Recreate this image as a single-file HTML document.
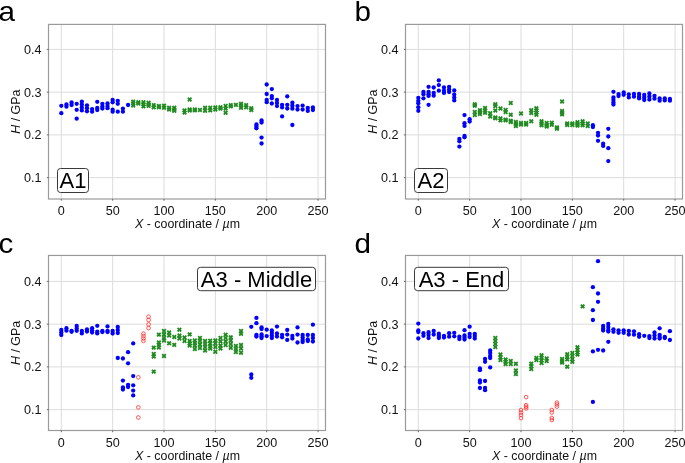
<!DOCTYPE html>
<html><head><meta charset="utf-8"><style>
html,body{margin:0;padding:0;background:#fff;}
body{width:685px;height:463px;overflow:hidden;}
svg{display:block;will-change:transform;}
</style></head><body>
<svg width="685" height="463" viewBox="0 0 685 463">
<defs>
<path id="gx" d="M1.13,-2.44 L2.44,-1.13 L1.31,-0.00 L2.44,1.13 L1.13,2.44 L0.00,1.31 L-1.13,2.44 L-2.44,1.13 L-1.31,0.00 L-2.44,-1.13 L-1.13,-2.44 L-0.00,-1.31Z" fill="#228b22"/>
</defs>
<rect width="685" height="463" fill="#fff"/>
<g transform="translate(0,0)">
<line x1="61.30" y1="24.4" x2="61.30" y2="199.0" stroke="#dcdcdc" stroke-width="1"/>
<line x1="112.65" y1="24.4" x2="112.65" y2="199.0" stroke="#dcdcdc" stroke-width="1"/>
<line x1="164.00" y1="24.4" x2="164.00" y2="199.0" stroke="#dcdcdc" stroke-width="1"/>
<line x1="215.35" y1="24.4" x2="215.35" y2="199.0" stroke="#dcdcdc" stroke-width="1"/>
<line x1="266.70" y1="24.4" x2="266.70" y2="199.0" stroke="#dcdcdc" stroke-width="1"/>
<line x1="318.05" y1="24.4" x2="318.05" y2="199.0" stroke="#dcdcdc" stroke-width="1"/>
<line x1="48.5" y1="177.65" x2="325.5" y2="177.65" stroke="#dcdcdc" stroke-width="1"/>
<line x1="48.5" y1="134.90" x2="325.5" y2="134.90" stroke="#dcdcdc" stroke-width="1"/>
<line x1="48.5" y1="92.15" x2="325.5" y2="92.15" stroke="#dcdcdc" stroke-width="1"/>
<line x1="48.5" y1="49.40" x2="325.5" y2="49.40" stroke="#dcdcdc" stroke-width="1"/>
<circle cx="61.30" cy="105.80" r="2.15" fill="#0000ff"/>
<circle cx="61.30" cy="113.20" r="2.15" fill="#0000ff"/>
<circle cx="66.44" cy="104.40" r="2.15" fill="#0000ff"/>
<circle cx="66.44" cy="106.70" r="2.15" fill="#0000ff"/>
<circle cx="71.57" cy="102.50" r="2.15" fill="#0000ff"/>
<circle cx="71.57" cy="105.00" r="2.15" fill="#0000ff"/>
<circle cx="76.70" cy="103.80" r="2.15" fill="#0000ff"/>
<circle cx="76.70" cy="109.80" r="2.15" fill="#0000ff"/>
<circle cx="76.70" cy="118.70" r="2.15" fill="#0000ff"/>
<circle cx="81.84" cy="101.60" r="2.15" fill="#0000ff"/>
<circle cx="81.84" cy="104.50" r="2.15" fill="#0000ff"/>
<circle cx="81.84" cy="107.50" r="2.15" fill="#0000ff"/>
<circle cx="81.84" cy="110.40" r="2.15" fill="#0000ff"/>
<circle cx="86.97" cy="105.30" r="2.15" fill="#0000ff"/>
<circle cx="86.97" cy="108.20" r="2.15" fill="#0000ff"/>
<circle cx="86.97" cy="111.30" r="2.15" fill="#0000ff"/>
<circle cx="92.11" cy="109.10" r="2.15" fill="#0000ff"/>
<circle cx="92.11" cy="111.70" r="2.15" fill="#0000ff"/>
<circle cx="97.25" cy="101.80" r="2.15" fill="#0000ff"/>
<circle cx="97.25" cy="108.00" r="2.15" fill="#0000ff"/>
<circle cx="97.25" cy="110.00" r="2.15" fill="#0000ff"/>
<circle cx="102.38" cy="103.80" r="2.15" fill="#0000ff"/>
<circle cx="102.38" cy="106.50" r="2.15" fill="#0000ff"/>
<circle cx="102.38" cy="108.60" r="2.15" fill="#0000ff"/>
<circle cx="107.51" cy="103.40" r="2.15" fill="#0000ff"/>
<circle cx="107.51" cy="106.00" r="2.15" fill="#0000ff"/>
<circle cx="107.51" cy="108.20" r="2.15" fill="#0000ff"/>
<circle cx="112.65" cy="99.90" r="2.15" fill="#0000ff"/>
<circle cx="112.65" cy="102.30" r="2.15" fill="#0000ff"/>
<circle cx="112.65" cy="109.70" r="2.15" fill="#0000ff"/>
<circle cx="112.65" cy="111.70" r="2.15" fill="#0000ff"/>
<circle cx="117.78" cy="100.80" r="2.15" fill="#0000ff"/>
<circle cx="117.78" cy="103.80" r="2.15" fill="#0000ff"/>
<circle cx="117.78" cy="111.70" r="2.15" fill="#0000ff"/>
<circle cx="122.92" cy="108.60" r="2.15" fill="#0000ff"/>
<circle cx="122.92" cy="111.70" r="2.15" fill="#0000ff"/>
<circle cx="128.06" cy="105.00" r="2.15" fill="#0000ff"/>
<circle cx="256.43" cy="124.50" r="2.15" fill="#0000ff"/>
<circle cx="256.43" cy="126.40" r="2.15" fill="#0000ff"/>
<circle cx="256.43" cy="128.30" r="2.15" fill="#0000ff"/>
<circle cx="261.56" cy="120.40" r="2.15" fill="#0000ff"/>
<circle cx="261.56" cy="122.50" r="2.15" fill="#0000ff"/>
<circle cx="261.56" cy="137.60" r="2.15" fill="#0000ff"/>
<circle cx="261.56" cy="143.50" r="2.15" fill="#0000ff"/>
<circle cx="266.70" cy="84.50" r="2.15" fill="#0000ff"/>
<circle cx="266.70" cy="94.00" r="2.15" fill="#0000ff"/>
<circle cx="266.70" cy="100.00" r="2.15" fill="#0000ff"/>
<circle cx="266.70" cy="102.20" r="2.15" fill="#0000ff"/>
<circle cx="271.83" cy="89.10" r="2.15" fill="#0000ff"/>
<circle cx="271.83" cy="96.10" r="2.15" fill="#0000ff"/>
<circle cx="271.83" cy="98.30" r="2.15" fill="#0000ff"/>
<circle cx="271.83" cy="103.50" r="2.15" fill="#0000ff"/>
<circle cx="276.97" cy="100.00" r="2.15" fill="#0000ff"/>
<circle cx="276.97" cy="103.00" r="2.15" fill="#0000ff"/>
<circle cx="276.97" cy="106.10" r="2.15" fill="#0000ff"/>
<circle cx="282.10" cy="104.80" r="2.15" fill="#0000ff"/>
<circle cx="282.10" cy="107.40" r="2.15" fill="#0000ff"/>
<circle cx="282.10" cy="116.40" r="2.15" fill="#0000ff"/>
<circle cx="287.24" cy="96.40" r="2.15" fill="#0000ff"/>
<circle cx="287.24" cy="104.80" r="2.15" fill="#0000ff"/>
<circle cx="287.24" cy="108.50" r="2.15" fill="#0000ff"/>
<circle cx="292.38" cy="102.70" r="2.15" fill="#0000ff"/>
<circle cx="292.38" cy="105.70" r="2.15" fill="#0000ff"/>
<circle cx="292.38" cy="108.70" r="2.15" fill="#0000ff"/>
<circle cx="292.38" cy="125.00" r="2.15" fill="#0000ff"/>
<circle cx="297.51" cy="106.10" r="2.15" fill="#0000ff"/>
<circle cx="297.51" cy="109.60" r="2.15" fill="#0000ff"/>
<circle cx="302.64" cy="105.70" r="2.15" fill="#0000ff"/>
<circle cx="302.64" cy="109.60" r="2.15" fill="#0000ff"/>
<circle cx="307.78" cy="107.90" r="2.15" fill="#0000ff"/>
<circle cx="307.78" cy="110.90" r="2.15" fill="#0000ff"/>
<circle cx="312.91" cy="107.40" r="2.15" fill="#0000ff"/>
<circle cx="312.91" cy="110.00" r="2.15" fill="#0000ff"/>
<use href="#gx" x="133.19" y="101.60"/>
<use href="#gx" x="133.19" y="103.50"/>
<use href="#gx" x="133.19" y="105.50"/>
<use href="#gx" x="138.32" y="102.20"/>
<use href="#gx" x="138.32" y="103.50"/>
<use href="#gx" x="143.46" y="102.20"/>
<use href="#gx" x="143.46" y="104.30"/>
<use href="#gx" x="143.46" y="106.40"/>
<use href="#gx" x="148.59" y="102.70"/>
<use href="#gx" x="148.59" y="104.30"/>
<use href="#gx" x="148.59" y="105.90"/>
<use href="#gx" x="153.73" y="105.10"/>
<use href="#gx" x="153.73" y="107.30"/>
<use href="#gx" x="158.87" y="106.00"/>
<use href="#gx" x="158.87" y="107.30"/>
<use href="#gx" x="164.00" y="105.60"/>
<use href="#gx" x="164.00" y="107.80"/>
<use href="#gx" x="169.13" y="107.80"/>
<use href="#gx" x="169.13" y="109.50"/>
<use href="#gx" x="174.27" y="107.80"/>
<use href="#gx" x="174.27" y="109.50"/>
<use href="#gx" x="174.27" y="110.80"/>
<use href="#gx" x="184.54" y="110.40"/>
<use href="#gx" x="184.54" y="112.60"/>
<use href="#gx" x="189.68" y="99.50"/>
<use href="#gx" x="189.68" y="109.50"/>
<use href="#gx" x="189.68" y="110.50"/>
<use href="#gx" x="194.81" y="109.50"/>
<use href="#gx" x="194.81" y="110.40"/>
<use href="#gx" x="199.94" y="110.00"/>
<use href="#gx" x="205.08" y="107.80"/>
<use href="#gx" x="205.08" y="110.80"/>
<use href="#gx" x="210.21" y="107.80"/>
<use href="#gx" x="210.21" y="110.40"/>
<use href="#gx" x="215.35" y="107.50"/>
<use href="#gx" x="215.35" y="109.50"/>
<use href="#gx" x="220.48" y="107.30"/>
<use href="#gx" x="220.48" y="108.60"/>
<use href="#gx" x="225.62" y="106.00"/>
<use href="#gx" x="225.62" y="108.60"/>
<use href="#gx" x="225.62" y="112.80"/>
<use href="#gx" x="230.75" y="105.10"/>
<use href="#gx" x="230.75" y="106.40"/>
<use href="#gx" x="235.89" y="104.90"/>
<use href="#gx" x="241.02" y="103.80"/>
<use href="#gx" x="241.02" y="105.60"/>
<use href="#gx" x="241.02" y="107.80"/>
<use href="#gx" x="246.16" y="105.10"/>
<use href="#gx" x="246.16" y="107.30"/>
<use href="#gx" x="251.29" y="108.20"/>
<use href="#gx" x="251.29" y="110.00"/>
<rect x="48.5" y="24.4" width="277.0" height="174.6" fill="none" stroke="#9a9a9a" stroke-width="1.2"/>
<line x1="61.30" y1="199.0" x2="61.30" y2="200.7" stroke="#666" stroke-width="1"/>
<text x="61.30" y="215.3" text-anchor="middle" font-size="12.6" font-family="Liberation Sans, sans-serif" fill="#111">0</text>
<line x1="112.65" y1="199.0" x2="112.65" y2="200.7" stroke="#666" stroke-width="1"/>
<text x="112.65" y="215.3" text-anchor="middle" font-size="12.6" font-family="Liberation Sans, sans-serif" fill="#111">50</text>
<line x1="164.00" y1="199.0" x2="164.00" y2="200.7" stroke="#666" stroke-width="1"/>
<text x="164.00" y="215.3" text-anchor="middle" font-size="12.6" font-family="Liberation Sans, sans-serif" fill="#111">100</text>
<line x1="215.35" y1="199.0" x2="215.35" y2="200.7" stroke="#666" stroke-width="1"/>
<text x="215.35" y="215.3" text-anchor="middle" font-size="12.6" font-family="Liberation Sans, sans-serif" fill="#111">150</text>
<line x1="266.70" y1="199.0" x2="266.70" y2="200.7" stroke="#666" stroke-width="1"/>
<text x="266.70" y="215.3" text-anchor="middle" font-size="12.6" font-family="Liberation Sans, sans-serif" fill="#111">200</text>
<line x1="318.05" y1="199.0" x2="318.05" y2="200.7" stroke="#666" stroke-width="1"/>
<text x="318.05" y="215.3" text-anchor="middle" font-size="12.6" font-family="Liberation Sans, sans-serif" fill="#111">250</text>
<line x1="46.8" y1="177.65" x2="48.5" y2="177.65" stroke="#666" stroke-width="1"/>
<text x="41.4" y="182.15" text-anchor="end" font-size="12.6" font-family="Liberation Sans, sans-serif" fill="#111">0.1</text>
<line x1="46.8" y1="134.90" x2="48.5" y2="134.90" stroke="#666" stroke-width="1"/>
<text x="41.4" y="139.40" text-anchor="end" font-size="12.6" font-family="Liberation Sans, sans-serif" fill="#111">0.2</text>
<line x1="46.8" y1="92.15" x2="48.5" y2="92.15" stroke="#666" stroke-width="1"/>
<text x="41.4" y="96.65" text-anchor="end" font-size="12.6" font-family="Liberation Sans, sans-serif" fill="#111">0.3</text>
<line x1="46.8" y1="49.40" x2="48.5" y2="49.40" stroke="#666" stroke-width="1"/>
<text x="41.4" y="53.90" text-anchor="end" font-size="12.6" font-family="Liberation Sans, sans-serif" fill="#111">0.4</text>
<text x="187.50" y="227.5" text-anchor="middle" font-size="12.4" font-family="Liberation Sans, sans-serif" fill="#111"><tspan font-style="italic">X</tspan> - coordinate / <tspan font-style="italic">µ</tspan>m</text>
<text transform="translate(20.2,111.70) rotate(-90)" text-anchor="middle" font-size="12.4" font-family="Liberation Sans, sans-serif" fill="#111"><tspan font-style="italic">H</tspan> / GPa</text>
<text transform="translate(-1.5,21.2) scale(1.06,1)" x="0" y="0" font-size="28" font-family="Liberation Sans, sans-serif" fill="#000">a</text>
</g>
<g transform="translate(357,0)">
<line x1="61.30" y1="24.4" x2="61.30" y2="199.0" stroke="#dcdcdc" stroke-width="1"/>
<line x1="112.65" y1="24.4" x2="112.65" y2="199.0" stroke="#dcdcdc" stroke-width="1"/>
<line x1="164.00" y1="24.4" x2="164.00" y2="199.0" stroke="#dcdcdc" stroke-width="1"/>
<line x1="215.35" y1="24.4" x2="215.35" y2="199.0" stroke="#dcdcdc" stroke-width="1"/>
<line x1="266.70" y1="24.4" x2="266.70" y2="199.0" stroke="#dcdcdc" stroke-width="1"/>
<line x1="318.05" y1="24.4" x2="318.05" y2="199.0" stroke="#dcdcdc" stroke-width="1"/>
<line x1="48.5" y1="177.65" x2="325.5" y2="177.65" stroke="#dcdcdc" stroke-width="1"/>
<line x1="48.5" y1="134.90" x2="325.5" y2="134.90" stroke="#dcdcdc" stroke-width="1"/>
<line x1="48.5" y1="92.15" x2="325.5" y2="92.15" stroke="#dcdcdc" stroke-width="1"/>
<line x1="48.5" y1="49.40" x2="325.5" y2="49.40" stroke="#dcdcdc" stroke-width="1"/>
<circle cx="61.30" cy="97.80" r="2.15" fill="#0000ff"/>
<circle cx="61.30" cy="100.80" r="2.15" fill="#0000ff"/>
<circle cx="61.30" cy="103.20" r="2.15" fill="#0000ff"/>
<circle cx="61.30" cy="107.20" r="2.15" fill="#0000ff"/>
<circle cx="61.30" cy="110.80" r="2.15" fill="#0000ff"/>
<circle cx="66.44" cy="92.00" r="2.15" fill="#0000ff"/>
<circle cx="66.44" cy="94.20" r="2.15" fill="#0000ff"/>
<circle cx="66.44" cy="98.30" r="2.15" fill="#0000ff"/>
<circle cx="71.57" cy="86.80" r="2.15" fill="#0000ff"/>
<circle cx="71.57" cy="92.00" r="2.15" fill="#0000ff"/>
<circle cx="71.57" cy="94.20" r="2.15" fill="#0000ff"/>
<circle cx="71.57" cy="95.90" r="2.15" fill="#0000ff"/>
<circle cx="71.57" cy="104.80" r="2.15" fill="#0000ff"/>
<circle cx="76.70" cy="87.50" r="2.15" fill="#0000ff"/>
<circle cx="76.70" cy="92.90" r="2.15" fill="#0000ff"/>
<circle cx="76.70" cy="95.70" r="2.15" fill="#0000ff"/>
<circle cx="81.84" cy="80.40" r="2.15" fill="#0000ff"/>
<circle cx="81.84" cy="85.10" r="2.15" fill="#0000ff"/>
<circle cx="81.84" cy="90.70" r="2.15" fill="#0000ff"/>
<circle cx="86.97" cy="87.50" r="2.15" fill="#0000ff"/>
<circle cx="86.97" cy="90.70" r="2.15" fill="#0000ff"/>
<circle cx="86.97" cy="92.90" r="2.15" fill="#0000ff"/>
<circle cx="92.11" cy="86.80" r="2.15" fill="#0000ff"/>
<circle cx="92.11" cy="89.40" r="2.15" fill="#0000ff"/>
<circle cx="92.11" cy="92.00" r="2.15" fill="#0000ff"/>
<circle cx="97.25" cy="90.50" r="2.15" fill="#0000ff"/>
<circle cx="97.25" cy="94.60" r="2.15" fill="#0000ff"/>
<circle cx="97.25" cy="97.60" r="2.15" fill="#0000ff"/>
<circle cx="97.25" cy="100.40" r="2.15" fill="#0000ff"/>
<circle cx="102.38" cy="139.00" r="2.15" fill="#0000ff"/>
<circle cx="102.38" cy="141.30" r="2.15" fill="#0000ff"/>
<circle cx="102.38" cy="146.60" r="2.15" fill="#0000ff"/>
<circle cx="107.51" cy="115.10" r="2.15" fill="#0000ff"/>
<circle cx="107.51" cy="123.20" r="2.15" fill="#0000ff"/>
<circle cx="107.51" cy="125.90" r="2.15" fill="#0000ff"/>
<circle cx="107.51" cy="135.90" r="2.15" fill="#0000ff"/>
<circle cx="107.51" cy="137.30" r="2.15" fill="#0000ff"/>
<circle cx="112.65" cy="119.20" r="2.15" fill="#0000ff"/>
<circle cx="112.65" cy="121.60" r="2.15" fill="#0000ff"/>
<circle cx="235.89" cy="125.20" r="2.15" fill="#0000ff"/>
<circle cx="235.89" cy="127.00" r="2.15" fill="#0000ff"/>
<circle cx="241.02" cy="132.80" r="2.15" fill="#0000ff"/>
<circle cx="241.02" cy="135.60" r="2.15" fill="#0000ff"/>
<circle cx="241.02" cy="140.80" r="2.15" fill="#0000ff"/>
<circle cx="246.16" cy="143.70" r="2.15" fill="#0000ff"/>
<circle cx="246.16" cy="145.90" r="2.15" fill="#0000ff"/>
<circle cx="251.29" cy="128.80" r="2.15" fill="#0000ff"/>
<circle cx="251.29" cy="136.50" r="2.15" fill="#0000ff"/>
<circle cx="251.29" cy="148.20" r="2.15" fill="#0000ff"/>
<circle cx="251.29" cy="161.10" r="2.15" fill="#0000ff"/>
<circle cx="256.43" cy="91.80" r="2.15" fill="#0000ff"/>
<circle cx="256.43" cy="97.50" r="2.15" fill="#0000ff"/>
<circle cx="256.43" cy="100.00" r="2.15" fill="#0000ff"/>
<circle cx="256.43" cy="102.50" r="2.15" fill="#0000ff"/>
<circle cx="256.43" cy="104.50" r="2.15" fill="#0000ff"/>
<circle cx="261.56" cy="94.10" r="2.15" fill="#0000ff"/>
<circle cx="261.56" cy="96.00" r="2.15" fill="#0000ff"/>
<circle cx="266.70" cy="92.40" r="2.15" fill="#0000ff"/>
<circle cx="266.70" cy="94.80" r="2.15" fill="#0000ff"/>
<circle cx="271.83" cy="94.30" r="2.15" fill="#0000ff"/>
<circle cx="271.83" cy="97.40" r="2.15" fill="#0000ff"/>
<circle cx="276.97" cy="94.00" r="2.15" fill="#0000ff"/>
<circle cx="276.97" cy="96.70" r="2.15" fill="#0000ff"/>
<circle cx="282.10" cy="94.00" r="2.15" fill="#0000ff"/>
<circle cx="282.10" cy="96.50" r="2.15" fill="#0000ff"/>
<circle cx="282.10" cy="98.40" r="2.15" fill="#0000ff"/>
<circle cx="287.24" cy="95.00" r="2.15" fill="#0000ff"/>
<circle cx="287.24" cy="97.50" r="2.15" fill="#0000ff"/>
<circle cx="287.24" cy="100.00" r="2.15" fill="#0000ff"/>
<circle cx="292.38" cy="93.50" r="2.15" fill="#0000ff"/>
<circle cx="292.38" cy="96.50" r="2.15" fill="#0000ff"/>
<circle cx="292.38" cy="99.50" r="2.15" fill="#0000ff"/>
<circle cx="297.51" cy="95.80" r="2.15" fill="#0000ff"/>
<circle cx="297.51" cy="98.70" r="2.15" fill="#0000ff"/>
<circle cx="302.64" cy="98.50" r="2.15" fill="#0000ff"/>
<circle cx="302.64" cy="100.70" r="2.15" fill="#0000ff"/>
<circle cx="307.78" cy="98.50" r="2.15" fill="#0000ff"/>
<circle cx="307.78" cy="100.40" r="2.15" fill="#0000ff"/>
<circle cx="312.91" cy="98.90" r="2.15" fill="#0000ff"/>
<circle cx="312.91" cy="100.70" r="2.15" fill="#0000ff"/>
<use href="#gx" x="117.78" y="104.30"/>
<use href="#gx" x="117.78" y="105.70"/>
<use href="#gx" x="117.78" y="112.00"/>
<use href="#gx" x="117.78" y="115.00"/>
<use href="#gx" x="122.92" y="110.20"/>
<use href="#gx" x="122.92" y="112.20"/>
<use href="#gx" x="122.92" y="114.00"/>
<use href="#gx" x="128.06" y="108.00"/>
<use href="#gx" x="128.06" y="110.50"/>
<use href="#gx" x="128.06" y="112.70"/>
<use href="#gx" x="133.19" y="113.20"/>
<use href="#gx" x="133.19" y="116.50"/>
<use href="#gx" x="138.32" y="104.30"/>
<use href="#gx" x="138.32" y="106.00"/>
<use href="#gx" x="138.32" y="110.50"/>
<use href="#gx" x="138.32" y="117.50"/>
<use href="#gx" x="138.32" y="118.30"/>
<use href="#gx" x="143.46" y="108.50"/>
<use href="#gx" x="143.46" y="118.40"/>
<use href="#gx" x="143.46" y="120.40"/>
<use href="#gx" x="148.59" y="110.00"/>
<use href="#gx" x="148.59" y="112.00"/>
<use href="#gx" x="148.59" y="119.60"/>
<use href="#gx" x="148.59" y="120.40"/>
<use href="#gx" x="153.73" y="103.00"/>
<use href="#gx" x="153.73" y="114.80"/>
<use href="#gx" x="153.73" y="120.80"/>
<use href="#gx" x="153.73" y="122.00"/>
<use href="#gx" x="158.87" y="122.00"/>
<use href="#gx" x="158.87" y="124.00"/>
<use href="#gx" x="158.87" y="126.00"/>
<use href="#gx" x="164.00" y="113.50"/>
<use href="#gx" x="164.00" y="123.00"/>
<use href="#gx" x="164.00" y="124.50"/>
<use href="#gx" x="169.13" y="123.00"/>
<use href="#gx" x="169.13" y="124.50"/>
<use href="#gx" x="174.27" y="110.20"/>
<use href="#gx" x="174.27" y="113.00"/>
<use href="#gx" x="174.27" y="121.30"/>
<use href="#gx" x="179.40" y="108.30"/>
<use href="#gx" x="179.40" y="110.50"/>
<use href="#gx" x="179.40" y="112.70"/>
<use href="#gx" x="179.40" y="114.80"/>
<use href="#gx" x="184.54" y="121.30"/>
<use href="#gx" x="184.54" y="123.50"/>
<use href="#gx" x="184.54" y="125.20"/>
<use href="#gx" x="189.68" y="123.00"/>
<use href="#gx" x="189.68" y="125.00"/>
<use href="#gx" x="189.68" y="126.50"/>
<use href="#gx" x="194.81" y="122.70"/>
<use href="#gx" x="194.81" y="124.80"/>
<use href="#gx" x="199.94" y="127.40"/>
<use href="#gx" x="199.94" y="128.70"/>
<use href="#gx" x="205.08" y="101.50"/>
<use href="#gx" x="205.08" y="111.00"/>
<use href="#gx" x="205.08" y="112.70"/>
<use href="#gx" x="205.08" y="114.40"/>
<use href="#gx" x="210.21" y="123.50"/>
<use href="#gx" x="210.21" y="125.00"/>
<use href="#gx" x="215.35" y="123.50"/>
<use href="#gx" x="215.35" y="125.00"/>
<use href="#gx" x="220.48" y="122.20"/>
<use href="#gx" x="220.48" y="124.00"/>
<use href="#gx" x="220.48" y="125.60"/>
<use href="#gx" x="225.62" y="121.30"/>
<use href="#gx" x="225.62" y="123.50"/>
<use href="#gx" x="225.62" y="125.20"/>
<use href="#gx" x="230.75" y="123.50"/>
<use href="#gx" x="230.75" y="126.00"/>
<rect x="48.5" y="24.4" width="277.0" height="174.6" fill="none" stroke="#9a9a9a" stroke-width="1.2"/>
<line x1="61.30" y1="199.0" x2="61.30" y2="200.7" stroke="#666" stroke-width="1"/>
<text x="61.30" y="215.3" text-anchor="middle" font-size="12.6" font-family="Liberation Sans, sans-serif" fill="#111">0</text>
<line x1="112.65" y1="199.0" x2="112.65" y2="200.7" stroke="#666" stroke-width="1"/>
<text x="112.65" y="215.3" text-anchor="middle" font-size="12.6" font-family="Liberation Sans, sans-serif" fill="#111">50</text>
<line x1="164.00" y1="199.0" x2="164.00" y2="200.7" stroke="#666" stroke-width="1"/>
<text x="164.00" y="215.3" text-anchor="middle" font-size="12.6" font-family="Liberation Sans, sans-serif" fill="#111">100</text>
<line x1="215.35" y1="199.0" x2="215.35" y2="200.7" stroke="#666" stroke-width="1"/>
<text x="215.35" y="215.3" text-anchor="middle" font-size="12.6" font-family="Liberation Sans, sans-serif" fill="#111">150</text>
<line x1="266.70" y1="199.0" x2="266.70" y2="200.7" stroke="#666" stroke-width="1"/>
<text x="266.70" y="215.3" text-anchor="middle" font-size="12.6" font-family="Liberation Sans, sans-serif" fill="#111">200</text>
<line x1="318.05" y1="199.0" x2="318.05" y2="200.7" stroke="#666" stroke-width="1"/>
<text x="318.05" y="215.3" text-anchor="middle" font-size="12.6" font-family="Liberation Sans, sans-serif" fill="#111">250</text>
<line x1="46.8" y1="177.65" x2="48.5" y2="177.65" stroke="#666" stroke-width="1"/>
<text x="41.4" y="182.15" text-anchor="end" font-size="12.6" font-family="Liberation Sans, sans-serif" fill="#111">0.1</text>
<line x1="46.8" y1="134.90" x2="48.5" y2="134.90" stroke="#666" stroke-width="1"/>
<text x="41.4" y="139.40" text-anchor="end" font-size="12.6" font-family="Liberation Sans, sans-serif" fill="#111">0.2</text>
<line x1="46.8" y1="92.15" x2="48.5" y2="92.15" stroke="#666" stroke-width="1"/>
<text x="41.4" y="96.65" text-anchor="end" font-size="12.6" font-family="Liberation Sans, sans-serif" fill="#111">0.3</text>
<line x1="46.8" y1="49.40" x2="48.5" y2="49.40" stroke="#666" stroke-width="1"/>
<text x="41.4" y="53.90" text-anchor="end" font-size="12.6" font-family="Liberation Sans, sans-serif" fill="#111">0.4</text>
<text x="187.50" y="227.5" text-anchor="middle" font-size="12.4" font-family="Liberation Sans, sans-serif" fill="#111"><tspan font-style="italic">X</tspan> - coordinate / <tspan font-style="italic">µ</tspan>m</text>
<text transform="translate(20.2,111.70) rotate(-90)" text-anchor="middle" font-size="12.4" font-family="Liberation Sans, sans-serif" fill="#111"><tspan font-style="italic">H</tspan> / GPa</text>
<text transform="translate(-2.4,21.4) scale(1.06,1)" x="0" y="0" font-size="28" font-family="Liberation Sans, sans-serif" fill="#000">b</text>
</g>
<g transform="translate(0,232)">
<line x1="61.30" y1="23.45" x2="61.30" y2="198.5" stroke="#dcdcdc" stroke-width="1"/>
<line x1="112.65" y1="23.45" x2="112.65" y2="198.5" stroke="#dcdcdc" stroke-width="1"/>
<line x1="164.00" y1="23.45" x2="164.00" y2="198.5" stroke="#dcdcdc" stroke-width="1"/>
<line x1="215.35" y1="23.45" x2="215.35" y2="198.5" stroke="#dcdcdc" stroke-width="1"/>
<line x1="266.70" y1="23.45" x2="266.70" y2="198.5" stroke="#dcdcdc" stroke-width="1"/>
<line x1="318.05" y1="23.45" x2="318.05" y2="198.5" stroke="#dcdcdc" stroke-width="1"/>
<line x1="48.5" y1="177.65" x2="325.5" y2="177.65" stroke="#dcdcdc" stroke-width="1"/>
<line x1="48.5" y1="134.90" x2="325.5" y2="134.90" stroke="#dcdcdc" stroke-width="1"/>
<line x1="48.5" y1="92.15" x2="325.5" y2="92.15" stroke="#dcdcdc" stroke-width="1"/>
<line x1="48.5" y1="49.40" x2="325.5" y2="49.40" stroke="#dcdcdc" stroke-width="1"/>
<circle cx="61.30" cy="98.00" r="2.15" fill="#0000ff"/>
<circle cx="61.30" cy="100.50" r="2.15" fill="#0000ff"/>
<circle cx="61.30" cy="103.00" r="2.15" fill="#0000ff"/>
<circle cx="66.44" cy="96.20" r="2.15" fill="#0000ff"/>
<circle cx="66.44" cy="98.70" r="2.15" fill="#0000ff"/>
<circle cx="71.57" cy="98.80" r="2.15" fill="#0000ff"/>
<circle cx="71.57" cy="99.80" r="2.15" fill="#0000ff"/>
<circle cx="76.70" cy="94.00" r="2.15" fill="#0000ff"/>
<circle cx="76.70" cy="96.50" r="2.15" fill="#0000ff"/>
<circle cx="76.70" cy="98.80" r="2.15" fill="#0000ff"/>
<circle cx="81.84" cy="99.00" r="2.15" fill="#0000ff"/>
<circle cx="81.84" cy="101.40" r="2.15" fill="#0000ff"/>
<circle cx="86.97" cy="97.50" r="2.15" fill="#0000ff"/>
<circle cx="86.97" cy="99.60" r="2.15" fill="#0000ff"/>
<circle cx="92.11" cy="96.20" r="2.15" fill="#0000ff"/>
<circle cx="92.11" cy="98.50" r="2.15" fill="#0000ff"/>
<circle cx="92.11" cy="100.50" r="2.15" fill="#0000ff"/>
<circle cx="97.25" cy="93.80" r="2.15" fill="#0000ff"/>
<circle cx="97.25" cy="99.70" r="2.15" fill="#0000ff"/>
<circle cx="97.25" cy="101.40" r="2.15" fill="#0000ff"/>
<circle cx="102.38" cy="99.00" r="2.15" fill="#0000ff"/>
<circle cx="102.38" cy="100.00" r="2.15" fill="#0000ff"/>
<circle cx="107.51" cy="94.40" r="2.15" fill="#0000ff"/>
<circle cx="107.51" cy="99.00" r="2.15" fill="#0000ff"/>
<circle cx="107.51" cy="100.00" r="2.15" fill="#0000ff"/>
<circle cx="112.65" cy="99.00" r="2.15" fill="#0000ff"/>
<circle cx="112.65" cy="101.50" r="2.15" fill="#0000ff"/>
<circle cx="117.78" cy="95.00" r="2.15" fill="#0000ff"/>
<circle cx="117.78" cy="98.00" r="2.15" fill="#0000ff"/>
<circle cx="117.78" cy="101.00" r="2.15" fill="#0000ff"/>
<circle cx="117.78" cy="126.00" r="2.15" fill="#0000ff"/>
<circle cx="122.92" cy="126.50" r="2.15" fill="#0000ff"/>
<circle cx="122.92" cy="148.60" r="2.15" fill="#0000ff"/>
<circle cx="122.92" cy="155.50" r="2.15" fill="#0000ff"/>
<circle cx="122.92" cy="157.50" r="2.15" fill="#0000ff"/>
<circle cx="128.06" cy="120.20" r="2.15" fill="#0000ff"/>
<circle cx="128.06" cy="131.30" r="2.15" fill="#0000ff"/>
<circle cx="128.06" cy="152.80" r="2.15" fill="#0000ff"/>
<circle cx="128.06" cy="155.00" r="2.15" fill="#0000ff"/>
<circle cx="133.19" cy="111.40" r="2.15" fill="#0000ff"/>
<circle cx="133.19" cy="144.10" r="2.15" fill="#0000ff"/>
<circle cx="133.19" cy="153.30" r="2.15" fill="#0000ff"/>
<circle cx="133.19" cy="158.60" r="2.15" fill="#0000ff"/>
<circle cx="133.19" cy="163.40" r="2.15" fill="#0000ff"/>
<circle cx="251.29" cy="94.80" r="2.15" fill="#0000ff"/>
<circle cx="251.29" cy="142.50" r="2.15" fill="#0000ff"/>
<circle cx="251.29" cy="145.80" r="2.15" fill="#0000ff"/>
<circle cx="256.43" cy="85.90" r="2.15" fill="#0000ff"/>
<circle cx="256.43" cy="91.20" r="2.15" fill="#0000ff"/>
<circle cx="256.43" cy="103.00" r="2.15" fill="#0000ff"/>
<circle cx="256.43" cy="104.50" r="2.15" fill="#0000ff"/>
<circle cx="261.56" cy="95.50" r="2.15" fill="#0000ff"/>
<circle cx="261.56" cy="97.00" r="2.15" fill="#0000ff"/>
<circle cx="261.56" cy="102.50" r="2.15" fill="#0000ff"/>
<circle cx="261.56" cy="104.50" r="2.15" fill="#0000ff"/>
<circle cx="261.56" cy="106.00" r="2.15" fill="#0000ff"/>
<circle cx="266.70" cy="97.70" r="2.15" fill="#0000ff"/>
<circle cx="266.70" cy="104.10" r="2.15" fill="#0000ff"/>
<circle cx="271.83" cy="98.50" r="2.15" fill="#0000ff"/>
<circle cx="271.83" cy="101.00" r="2.15" fill="#0000ff"/>
<circle cx="271.83" cy="103.50" r="2.15" fill="#0000ff"/>
<circle cx="271.83" cy="106.00" r="2.15" fill="#0000ff"/>
<circle cx="276.97" cy="94.60" r="2.15" fill="#0000ff"/>
<circle cx="276.97" cy="101.50" r="2.15" fill="#0000ff"/>
<circle cx="276.97" cy="104.50" r="2.15" fill="#0000ff"/>
<circle cx="282.10" cy="102.80" r="2.15" fill="#0000ff"/>
<circle cx="282.10" cy="105.30" r="2.15" fill="#0000ff"/>
<circle cx="287.24" cy="98.00" r="2.15" fill="#0000ff"/>
<circle cx="287.24" cy="102.60" r="2.15" fill="#0000ff"/>
<circle cx="287.24" cy="107.90" r="2.15" fill="#0000ff"/>
<circle cx="292.38" cy="104.00" r="2.15" fill="#0000ff"/>
<circle cx="292.38" cy="106.50" r="2.15" fill="#0000ff"/>
<circle cx="297.51" cy="95.40" r="2.15" fill="#0000ff"/>
<circle cx="297.51" cy="102.60" r="2.15" fill="#0000ff"/>
<circle cx="297.51" cy="110.50" r="2.15" fill="#0000ff"/>
<circle cx="302.64" cy="103.00" r="2.15" fill="#0000ff"/>
<circle cx="302.64" cy="105.50" r="2.15" fill="#0000ff"/>
<circle cx="302.64" cy="108.00" r="2.15" fill="#0000ff"/>
<circle cx="302.64" cy="110.00" r="2.15" fill="#0000ff"/>
<circle cx="307.78" cy="103.00" r="2.15" fill="#0000ff"/>
<circle cx="307.78" cy="107.50" r="2.15" fill="#0000ff"/>
<circle cx="307.78" cy="109.00" r="2.15" fill="#0000ff"/>
<circle cx="312.91" cy="92.70" r="2.15" fill="#0000ff"/>
<circle cx="312.91" cy="103.00" r="2.15" fill="#0000ff"/>
<circle cx="312.91" cy="106.00" r="2.15" fill="#0000ff"/>
<circle cx="312.91" cy="109.50" r="2.15" fill="#0000ff"/>
<use href="#gx" x="153.73" y="115.60"/>
<use href="#gx" x="153.73" y="122.00"/>
<use href="#gx" x="153.73" y="124.50"/>
<use href="#gx" x="153.73" y="139.60"/>
<use href="#gx" x="158.87" y="102.60"/>
<use href="#gx" x="158.87" y="110.50"/>
<use href="#gx" x="158.87" y="113.00"/>
<use href="#gx" x="158.87" y="115.50"/>
<use href="#gx" x="164.00" y="99.00"/>
<use href="#gx" x="164.00" y="102.50"/>
<use href="#gx" x="164.00" y="106.00"/>
<use href="#gx" x="164.00" y="108.50"/>
<use href="#gx" x="164.00" y="124.00"/>
<use href="#gx" x="169.13" y="100.50"/>
<use href="#gx" x="169.13" y="103.50"/>
<use href="#gx" x="169.13" y="111.30"/>
<use href="#gx" x="174.27" y="105.00"/>
<use href="#gx" x="174.27" y="112.90"/>
<use href="#gx" x="179.40" y="97.70"/>
<use href="#gx" x="179.40" y="103.50"/>
<use href="#gx" x="179.40" y="106.50"/>
<use href="#gx" x="184.54" y="105.50"/>
<use href="#gx" x="184.54" y="109.00"/>
<use href="#gx" x="189.68" y="102.40"/>
<use href="#gx" x="189.68" y="109.00"/>
<use href="#gx" x="189.68" y="111.50"/>
<use href="#gx" x="189.68" y="113.50"/>
<use href="#gx" x="194.81" y="108.50"/>
<use href="#gx" x="194.81" y="111.00"/>
<use href="#gx" x="194.81" y="113.50"/>
<use href="#gx" x="194.81" y="117.00"/>
<use href="#gx" x="199.94" y="106.00"/>
<use href="#gx" x="199.94" y="109.00"/>
<use href="#gx" x="199.94" y="112.50"/>
<use href="#gx" x="199.94" y="116.00"/>
<use href="#gx" x="205.08" y="109.00"/>
<use href="#gx" x="205.08" y="112.00"/>
<use href="#gx" x="205.08" y="115.00"/>
<use href="#gx" x="205.08" y="118.50"/>
<use href="#gx" x="210.21" y="108.80"/>
<use href="#gx" x="210.21" y="111.50"/>
<use href="#gx" x="210.21" y="114.50"/>
<use href="#gx" x="210.21" y="116.50"/>
<use href="#gx" x="215.35" y="108.50"/>
<use href="#gx" x="215.35" y="111.50"/>
<use href="#gx" x="215.35" y="115.00"/>
<use href="#gx" x="215.35" y="119.80"/>
<use href="#gx" x="220.48" y="106.00"/>
<use href="#gx" x="220.48" y="109.50"/>
<use href="#gx" x="220.48" y="113.50"/>
<use href="#gx" x="220.48" y="116.50"/>
<use href="#gx" x="225.62" y="102.80"/>
<use href="#gx" x="225.62" y="106.00"/>
<use href="#gx" x="225.62" y="109.50"/>
<use href="#gx" x="225.62" y="113.00"/>
<use href="#gx" x="230.75" y="105.30"/>
<use href="#gx" x="230.75" y="108.50"/>
<use href="#gx" x="230.75" y="112.00"/>
<use href="#gx" x="230.75" y="115.80"/>
<use href="#gx" x="235.89" y="114.00"/>
<use href="#gx" x="235.89" y="117.00"/>
<use href="#gx" x="235.89" y="120.00"/>
<use href="#gx" x="241.02" y="99.00"/>
<use href="#gx" x="241.02" y="101.80"/>
<use href="#gx" x="241.02" y="113.00"/>
<use href="#gx" x="241.02" y="116.50"/>
<use href="#gx" x="241.02" y="120.70"/>
<circle cx="138.32" cy="145.30" r="1.85" fill="none" stroke="#ff3030" stroke-width="0.8"/>
<circle cx="138.32" cy="175.40" r="1.85" fill="none" stroke="#ff3030" stroke-width="0.8"/>
<circle cx="138.32" cy="185.50" r="1.85" fill="none" stroke="#ff3030" stroke-width="0.8"/>
<circle cx="143.46" cy="101.60" r="1.85" fill="none" stroke="#ff3030" stroke-width="0.8"/>
<circle cx="143.46" cy="104.10" r="1.85" fill="none" stroke="#ff3030" stroke-width="0.8"/>
<circle cx="143.46" cy="106.50" r="1.85" fill="none" stroke="#ff3030" stroke-width="0.8"/>
<circle cx="143.46" cy="108.90" r="1.85" fill="none" stroke="#ff3030" stroke-width="0.8"/>
<circle cx="148.59" cy="84.70" r="1.85" fill="none" stroke="#ff3030" stroke-width="0.8"/>
<circle cx="148.59" cy="88.00" r="1.85" fill="none" stroke="#ff3030" stroke-width="0.8"/>
<circle cx="148.59" cy="92.40" r="1.85" fill="none" stroke="#ff3030" stroke-width="0.8"/>
<circle cx="148.59" cy="96.10" r="1.85" fill="none" stroke="#ff3030" stroke-width="0.8"/>
<rect x="48.5" y="23.45" width="277.0" height="175.05" fill="none" stroke="#9a9a9a" stroke-width="1.2"/>
<line x1="61.30" y1="198.5" x2="61.30" y2="200.2" stroke="#666" stroke-width="1"/>
<text x="61.30" y="215.3" text-anchor="middle" font-size="12.6" font-family="Liberation Sans, sans-serif" fill="#111">0</text>
<line x1="112.65" y1="198.5" x2="112.65" y2="200.2" stroke="#666" stroke-width="1"/>
<text x="112.65" y="215.3" text-anchor="middle" font-size="12.6" font-family="Liberation Sans, sans-serif" fill="#111">50</text>
<line x1="164.00" y1="198.5" x2="164.00" y2="200.2" stroke="#666" stroke-width="1"/>
<text x="164.00" y="215.3" text-anchor="middle" font-size="12.6" font-family="Liberation Sans, sans-serif" fill="#111">100</text>
<line x1="215.35" y1="198.5" x2="215.35" y2="200.2" stroke="#666" stroke-width="1"/>
<text x="215.35" y="215.3" text-anchor="middle" font-size="12.6" font-family="Liberation Sans, sans-serif" fill="#111">150</text>
<line x1="266.70" y1="198.5" x2="266.70" y2="200.2" stroke="#666" stroke-width="1"/>
<text x="266.70" y="215.3" text-anchor="middle" font-size="12.6" font-family="Liberation Sans, sans-serif" fill="#111">200</text>
<line x1="318.05" y1="198.5" x2="318.05" y2="200.2" stroke="#666" stroke-width="1"/>
<text x="318.05" y="215.3" text-anchor="middle" font-size="12.6" font-family="Liberation Sans, sans-serif" fill="#111">250</text>
<line x1="46.8" y1="177.65" x2="48.5" y2="177.65" stroke="#666" stroke-width="1"/>
<text x="41.4" y="182.15" text-anchor="end" font-size="12.6" font-family="Liberation Sans, sans-serif" fill="#111">0.1</text>
<line x1="46.8" y1="134.90" x2="48.5" y2="134.90" stroke="#666" stroke-width="1"/>
<text x="41.4" y="139.40" text-anchor="end" font-size="12.6" font-family="Liberation Sans, sans-serif" fill="#111">0.2</text>
<line x1="46.8" y1="92.15" x2="48.5" y2="92.15" stroke="#666" stroke-width="1"/>
<text x="41.4" y="96.65" text-anchor="end" font-size="12.6" font-family="Liberation Sans, sans-serif" fill="#111">0.3</text>
<line x1="46.8" y1="49.40" x2="48.5" y2="49.40" stroke="#666" stroke-width="1"/>
<text x="41.4" y="53.90" text-anchor="end" font-size="12.6" font-family="Liberation Sans, sans-serif" fill="#111">0.4</text>
<text x="187.50" y="227.5" text-anchor="middle" font-size="12.4" font-family="Liberation Sans, sans-serif" fill="#111"><tspan font-style="italic">X</tspan> - coordinate / <tspan font-style="italic">µ</tspan>m</text>
<text transform="translate(20.2,110.97) rotate(-90)" text-anchor="middle" font-size="12.4" font-family="Liberation Sans, sans-serif" fill="#111"><tspan font-style="italic">H</tspan> / GPa</text>
<text transform="translate(-1.5,21.2) scale(1.06,1)" x="0" y="0" font-size="28" font-family="Liberation Sans, sans-serif" fill="#000">c</text>
</g>
<g transform="translate(357,232)">
<line x1="61.30" y1="23.45" x2="61.30" y2="198.5" stroke="#dcdcdc" stroke-width="1"/>
<line x1="112.65" y1="23.45" x2="112.65" y2="198.5" stroke="#dcdcdc" stroke-width="1"/>
<line x1="164.00" y1="23.45" x2="164.00" y2="198.5" stroke="#dcdcdc" stroke-width="1"/>
<line x1="215.35" y1="23.45" x2="215.35" y2="198.5" stroke="#dcdcdc" stroke-width="1"/>
<line x1="266.70" y1="23.45" x2="266.70" y2="198.5" stroke="#dcdcdc" stroke-width="1"/>
<line x1="318.05" y1="23.45" x2="318.05" y2="198.5" stroke="#dcdcdc" stroke-width="1"/>
<line x1="48.5" y1="177.65" x2="325.5" y2="177.65" stroke="#dcdcdc" stroke-width="1"/>
<line x1="48.5" y1="134.90" x2="325.5" y2="134.90" stroke="#dcdcdc" stroke-width="1"/>
<line x1="48.5" y1="92.15" x2="325.5" y2="92.15" stroke="#dcdcdc" stroke-width="1"/>
<line x1="48.5" y1="49.40" x2="325.5" y2="49.40" stroke="#dcdcdc" stroke-width="1"/>
<circle cx="61.30" cy="91.60" r="2.15" fill="#0000ff"/>
<circle cx="61.30" cy="98.40" r="2.15" fill="#0000ff"/>
<circle cx="61.30" cy="100.00" r="2.15" fill="#0000ff"/>
<circle cx="61.30" cy="106.50" r="2.15" fill="#0000ff"/>
<circle cx="66.44" cy="101.20" r="2.15" fill="#0000ff"/>
<circle cx="66.44" cy="103.80" r="2.15" fill="#0000ff"/>
<circle cx="71.57" cy="100.20" r="2.15" fill="#0000ff"/>
<circle cx="71.57" cy="102.80" r="2.15" fill="#0000ff"/>
<circle cx="71.57" cy="106.00" r="2.15" fill="#0000ff"/>
<circle cx="76.70" cy="99.00" r="2.15" fill="#0000ff"/>
<circle cx="76.70" cy="102.50" r="2.15" fill="#0000ff"/>
<circle cx="81.84" cy="101.70" r="2.15" fill="#0000ff"/>
<circle cx="81.84" cy="104.00" r="2.15" fill="#0000ff"/>
<circle cx="81.84" cy="106.00" r="2.15" fill="#0000ff"/>
<circle cx="86.97" cy="103.80" r="2.15" fill="#0000ff"/>
<circle cx="86.97" cy="105.60" r="2.15" fill="#0000ff"/>
<circle cx="92.11" cy="101.20" r="2.15" fill="#0000ff"/>
<circle cx="92.11" cy="104.70" r="2.15" fill="#0000ff"/>
<circle cx="97.25" cy="100.80" r="2.15" fill="#0000ff"/>
<circle cx="97.25" cy="104.30" r="2.15" fill="#0000ff"/>
<circle cx="102.38" cy="104.70" r="2.15" fill="#0000ff"/>
<circle cx="102.38" cy="107.00" r="2.15" fill="#0000ff"/>
<circle cx="107.51" cy="98.20" r="2.15" fill="#0000ff"/>
<circle cx="107.51" cy="103.50" r="2.15" fill="#0000ff"/>
<circle cx="107.51" cy="105.50" r="2.15" fill="#0000ff"/>
<circle cx="107.51" cy="107.60" r="2.15" fill="#0000ff"/>
<circle cx="112.65" cy="94.70" r="2.15" fill="#0000ff"/>
<circle cx="112.65" cy="102.00" r="2.15" fill="#0000ff"/>
<circle cx="112.65" cy="105.00" r="2.15" fill="#0000ff"/>
<circle cx="117.78" cy="101.80" r="2.15" fill="#0000ff"/>
<circle cx="117.78" cy="104.00" r="2.15" fill="#0000ff"/>
<circle cx="117.78" cy="106.50" r="2.15" fill="#0000ff"/>
<circle cx="122.92" cy="136.50" r="2.15" fill="#0000ff"/>
<circle cx="122.92" cy="138.20" r="2.15" fill="#0000ff"/>
<circle cx="122.92" cy="148.50" r="2.15" fill="#0000ff"/>
<circle cx="122.92" cy="150.50" r="2.15" fill="#0000ff"/>
<circle cx="122.92" cy="156.00" r="2.15" fill="#0000ff"/>
<circle cx="128.06" cy="127.00" r="2.15" fill="#0000ff"/>
<circle cx="128.06" cy="129.80" r="2.15" fill="#0000ff"/>
<circle cx="128.06" cy="149.00" r="2.15" fill="#0000ff"/>
<circle cx="128.06" cy="156.00" r="2.15" fill="#0000ff"/>
<circle cx="128.06" cy="158.20" r="2.15" fill="#0000ff"/>
<circle cx="133.19" cy="118.50" r="2.15" fill="#0000ff"/>
<circle cx="133.19" cy="121.00" r="2.15" fill="#0000ff"/>
<circle cx="133.19" cy="124.00" r="2.15" fill="#0000ff"/>
<circle cx="133.19" cy="126.00" r="2.15" fill="#0000ff"/>
<circle cx="133.19" cy="135.40" r="2.15" fill="#0000ff"/>
<circle cx="235.89" cy="55.20" r="2.15" fill="#0000ff"/>
<circle cx="235.89" cy="78.20" r="2.15" fill="#0000ff"/>
<circle cx="235.89" cy="88.00" r="2.15" fill="#0000ff"/>
<circle cx="235.89" cy="119.40" r="2.15" fill="#0000ff"/>
<circle cx="235.89" cy="169.90" r="2.15" fill="#0000ff"/>
<circle cx="241.02" cy="29.20" r="2.15" fill="#0000ff"/>
<circle cx="241.02" cy="61.50" r="2.15" fill="#0000ff"/>
<circle cx="241.02" cy="69.80" r="2.15" fill="#0000ff"/>
<circle cx="241.02" cy="117.80" r="2.15" fill="#0000ff"/>
<circle cx="246.16" cy="94.00" r="2.15" fill="#0000ff"/>
<circle cx="246.16" cy="96.50" r="2.15" fill="#0000ff"/>
<circle cx="246.16" cy="98.50" r="2.15" fill="#0000ff"/>
<circle cx="246.16" cy="118.50" r="2.15" fill="#0000ff"/>
<circle cx="251.29" cy="92.00" r="2.15" fill="#0000ff"/>
<circle cx="251.29" cy="95.00" r="2.15" fill="#0000ff"/>
<circle cx="251.29" cy="98.00" r="2.15" fill="#0000ff"/>
<circle cx="251.29" cy="99.60" r="2.15" fill="#0000ff"/>
<circle cx="251.29" cy="109.80" r="2.15" fill="#0000ff"/>
<circle cx="256.43" cy="97.30" r="2.15" fill="#0000ff"/>
<circle cx="256.43" cy="99.80" r="2.15" fill="#0000ff"/>
<circle cx="261.56" cy="98.30" r="2.15" fill="#0000ff"/>
<circle cx="261.56" cy="100.80" r="2.15" fill="#0000ff"/>
<circle cx="266.70" cy="98.30" r="2.15" fill="#0000ff"/>
<circle cx="266.70" cy="100.80" r="2.15" fill="#0000ff"/>
<circle cx="271.83" cy="99.00" r="2.15" fill="#0000ff"/>
<circle cx="271.83" cy="102.50" r="2.15" fill="#0000ff"/>
<circle cx="276.97" cy="99.30" r="2.15" fill="#0000ff"/>
<circle cx="276.97" cy="102.70" r="2.15" fill="#0000ff"/>
<circle cx="282.10" cy="102.20" r="2.15" fill="#0000ff"/>
<circle cx="282.10" cy="104.80" r="2.15" fill="#0000ff"/>
<circle cx="287.24" cy="103.80" r="2.15" fill="#0000ff"/>
<circle cx="292.38" cy="104.10" r="2.15" fill="#0000ff"/>
<circle cx="292.38" cy="106.00" r="2.15" fill="#0000ff"/>
<circle cx="297.51" cy="100.50" r="2.15" fill="#0000ff"/>
<circle cx="297.51" cy="103.50" r="2.15" fill="#0000ff"/>
<circle cx="297.51" cy="106.60" r="2.15" fill="#0000ff"/>
<circle cx="302.64" cy="96.30" r="2.15" fill="#0000ff"/>
<circle cx="302.64" cy="102.80" r="2.15" fill="#0000ff"/>
<circle cx="302.64" cy="105.00" r="2.15" fill="#0000ff"/>
<circle cx="302.64" cy="106.60" r="2.15" fill="#0000ff"/>
<circle cx="307.78" cy="105.00" r="2.15" fill="#0000ff"/>
<circle cx="307.78" cy="106.00" r="2.15" fill="#0000ff"/>
<circle cx="312.91" cy="99.20" r="2.15" fill="#0000ff"/>
<circle cx="312.91" cy="108.00" r="2.15" fill="#0000ff"/>
<use href="#gx" x="138.32" y="106.00"/>
<use href="#gx" x="138.32" y="109.00"/>
<use href="#gx" x="138.32" y="112.00"/>
<use href="#gx" x="138.32" y="115.00"/>
<use href="#gx" x="143.46" y="122.50"/>
<use href="#gx" x="143.46" y="125.50"/>
<use href="#gx" x="143.46" y="128.00"/>
<use href="#gx" x="148.59" y="127.50"/>
<use href="#gx" x="148.59" y="129.80"/>
<use href="#gx" x="148.59" y="132.00"/>
<use href="#gx" x="153.73" y="129.00"/>
<use href="#gx" x="153.73" y="132.00"/>
<use href="#gx" x="158.87" y="131.80"/>
<use href="#gx" x="158.87" y="138.50"/>
<use href="#gx" x="158.87" y="142.00"/>
<use href="#gx" x="174.27" y="131.60"/>
<use href="#gx" x="174.27" y="134.30"/>
<use href="#gx" x="174.27" y="137.00"/>
<use href="#gx" x="179.40" y="126.00"/>
<use href="#gx" x="179.40" y="128.00"/>
<use href="#gx" x="184.54" y="123.30"/>
<use href="#gx" x="184.54" y="125.80"/>
<use href="#gx" x="184.54" y="128.30"/>
<use href="#gx" x="184.54" y="131.00"/>
<use href="#gx" x="189.68" y="126.50"/>
<use href="#gx" x="189.68" y="129.00"/>
<use href="#gx" x="205.08" y="127.00"/>
<use href="#gx" x="205.08" y="129.00"/>
<use href="#gx" x="205.08" y="130.60"/>
<use href="#gx" x="210.21" y="122.20"/>
<use href="#gx" x="210.21" y="125.00"/>
<use href="#gx" x="210.21" y="127.40"/>
<use href="#gx" x="210.21" y="134.70"/>
<use href="#gx" x="215.35" y="121.00"/>
<use href="#gx" x="215.35" y="124.00"/>
<use href="#gx" x="215.35" y="127.00"/>
<use href="#gx" x="215.35" y="129.80"/>
<use href="#gx" x="220.48" y="115.30"/>
<use href="#gx" x="220.48" y="118.00"/>
<use href="#gx" x="220.48" y="120.50"/>
<use href="#gx" x="220.48" y="122.60"/>
<use href="#gx" x="225.62" y="74.40"/>
<circle cx="164.00" cy="178.00" r="1.85" fill="none" stroke="#ff3030" stroke-width="0.8"/>
<circle cx="164.00" cy="180.50" r="1.85" fill="none" stroke="#ff3030" stroke-width="0.8"/>
<circle cx="164.00" cy="183.00" r="1.85" fill="none" stroke="#ff3030" stroke-width="0.8"/>
<circle cx="164.00" cy="186.10" r="1.85" fill="none" stroke="#ff3030" stroke-width="0.8"/>
<circle cx="169.13" cy="165.10" r="1.85" fill="none" stroke="#ff3030" stroke-width="0.8"/>
<circle cx="169.13" cy="173.20" r="1.85" fill="none" stroke="#ff3030" stroke-width="0.8"/>
<circle cx="169.13" cy="174.80" r="1.85" fill="none" stroke="#ff3030" stroke-width="0.8"/>
<circle cx="169.13" cy="176.40" r="1.85" fill="none" stroke="#ff3030" stroke-width="0.8"/>
<circle cx="194.81" cy="178.00" r="1.85" fill="none" stroke="#ff3030" stroke-width="0.8"/>
<circle cx="194.81" cy="180.50" r="1.85" fill="none" stroke="#ff3030" stroke-width="0.8"/>
<circle cx="194.81" cy="186.00" r="1.85" fill="none" stroke="#ff3030" stroke-width="0.8"/>
<circle cx="194.81" cy="188.00" r="1.85" fill="none" stroke="#ff3030" stroke-width="0.8"/>
<circle cx="199.94" cy="170.70" r="1.85" fill="none" stroke="#ff3030" stroke-width="0.8"/>
<circle cx="199.94" cy="172.50" r="1.85" fill="none" stroke="#ff3030" stroke-width="0.8"/>
<circle cx="199.94" cy="174.60" r="1.85" fill="none" stroke="#ff3030" stroke-width="0.8"/>
<rect x="48.5" y="23.45" width="277.0" height="175.05" fill="none" stroke="#9a9a9a" stroke-width="1.2"/>
<line x1="61.30" y1="198.5" x2="61.30" y2="200.2" stroke="#666" stroke-width="1"/>
<text x="61.30" y="215.3" text-anchor="middle" font-size="12.6" font-family="Liberation Sans, sans-serif" fill="#111">0</text>
<line x1="112.65" y1="198.5" x2="112.65" y2="200.2" stroke="#666" stroke-width="1"/>
<text x="112.65" y="215.3" text-anchor="middle" font-size="12.6" font-family="Liberation Sans, sans-serif" fill="#111">50</text>
<line x1="164.00" y1="198.5" x2="164.00" y2="200.2" stroke="#666" stroke-width="1"/>
<text x="164.00" y="215.3" text-anchor="middle" font-size="12.6" font-family="Liberation Sans, sans-serif" fill="#111">100</text>
<line x1="215.35" y1="198.5" x2="215.35" y2="200.2" stroke="#666" stroke-width="1"/>
<text x="215.35" y="215.3" text-anchor="middle" font-size="12.6" font-family="Liberation Sans, sans-serif" fill="#111">150</text>
<line x1="266.70" y1="198.5" x2="266.70" y2="200.2" stroke="#666" stroke-width="1"/>
<text x="266.70" y="215.3" text-anchor="middle" font-size="12.6" font-family="Liberation Sans, sans-serif" fill="#111">200</text>
<line x1="318.05" y1="198.5" x2="318.05" y2="200.2" stroke="#666" stroke-width="1"/>
<text x="318.05" y="215.3" text-anchor="middle" font-size="12.6" font-family="Liberation Sans, sans-serif" fill="#111">250</text>
<line x1="46.8" y1="177.65" x2="48.5" y2="177.65" stroke="#666" stroke-width="1"/>
<text x="41.4" y="182.15" text-anchor="end" font-size="12.6" font-family="Liberation Sans, sans-serif" fill="#111">0.1</text>
<line x1="46.8" y1="134.90" x2="48.5" y2="134.90" stroke="#666" stroke-width="1"/>
<text x="41.4" y="139.40" text-anchor="end" font-size="12.6" font-family="Liberation Sans, sans-serif" fill="#111">0.2</text>
<line x1="46.8" y1="92.15" x2="48.5" y2="92.15" stroke="#666" stroke-width="1"/>
<text x="41.4" y="96.65" text-anchor="end" font-size="12.6" font-family="Liberation Sans, sans-serif" fill="#111">0.3</text>
<line x1="46.8" y1="49.40" x2="48.5" y2="49.40" stroke="#666" stroke-width="1"/>
<text x="41.4" y="53.90" text-anchor="end" font-size="12.6" font-family="Liberation Sans, sans-serif" fill="#111">0.4</text>
<text x="187.50" y="227.5" text-anchor="middle" font-size="12.4" font-family="Liberation Sans, sans-serif" fill="#111"><tspan font-style="italic">X</tspan> - coordinate / <tspan font-style="italic">µ</tspan>m</text>
<text transform="translate(20.2,110.97) rotate(-90)" text-anchor="middle" font-size="12.4" font-family="Liberation Sans, sans-serif" fill="#111"><tspan font-style="italic">H</tspan> / GPa</text>
<text transform="translate(-2.5,21.2) scale(1.06,1)" x="0" y="0" font-size="28" font-family="Liberation Sans, sans-serif" fill="#000">d</text>
</g>
<rect x="57.5" y="168.5" width="31" height="24" rx="3" ry="3" fill="#fff" stroke="#3a3a3a" stroke-width="1"/>
<text x="73.00" y="188.2" text-anchor="middle" font-size="22" font-family="Liberation Sans, sans-serif" fill="#000">A1</text>
<rect x="414.5" y="168.5" width="33" height="24" rx="3" ry="3" fill="#fff" stroke="#3a3a3a" stroke-width="1"/>
<text x="431.00" y="188.2" text-anchor="middle" font-size="22" font-family="Liberation Sans, sans-serif" fill="#000">A2</text>
<rect x="197.5" y="267.3" width="118" height="23.4" rx="3" ry="3" fill="#fff" stroke="#3a3a3a" stroke-width="1"/>
<text x="256.50" y="286.8" text-anchor="middle" font-size="22" font-family="Liberation Sans, sans-serif" fill="#000">A3 - Middle</text>
<rect x="414.5" y="267.3" width="94" height="23.4" rx="3" ry="3" fill="#fff" stroke="#3a3a3a" stroke-width="1"/>
<text x="461.50" y="286.8" text-anchor="middle" font-size="22" font-family="Liberation Sans, sans-serif" fill="#000">A3 - End</text>
</svg>
</body></html>
